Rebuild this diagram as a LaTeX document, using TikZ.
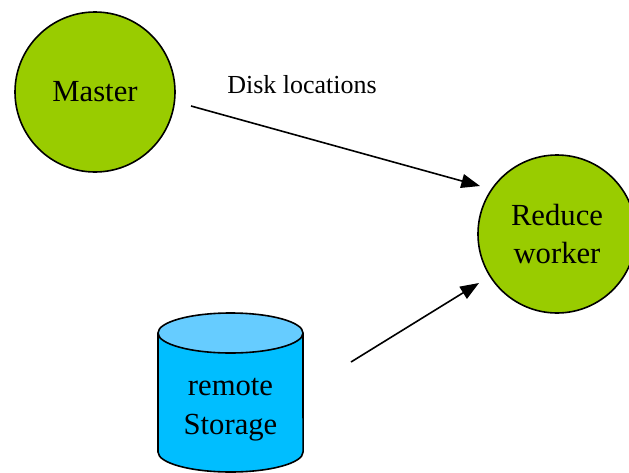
\documentclass[tikz,border=0pt]{standalone}
\usepackage{fontspec}
\setmainfont{Liberation Serif}
\usetikzlibrary{arrows.meta}
\definecolor{workergreen}{RGB}{153,204,0}
\definecolor{storeblue}{RGB}{0,190,255}
\definecolor{storetop}{RGB}{102,204,255}
\tikzset{
	worker/.style={circle,draw=black,line width=1.2pt,fill=workergreen,align=center,inner sep=0pt,font=\fontsize{23}{29}\selectfont},
	link/.style={-{Triangle[length=14pt,width=10.5pt]},line width=1.2pt},
}
\begin{document}
\begin{tikzpicture}[x=0.75pt,y=-0.75pt]
			\useasboundingbox (0,0) rectangle (629,472);
			\node[worker,minimum size=120pt] (master) at (95,92) {Master};
			\node[worker,minimum size=118.5pt] (reduce) at (557,234) {Reduce\\worker};
			% remote storage
			\fill[storeblue] (158,333) -- (158,452) arc[start angle=180,end angle=360,x radius=54.4pt,y radius=15pt] -- (303,333) -- cycle;
			\draw[line width=1.2pt] (158,333) -- (158,452) arc[start angle=180,end angle=360,x radius=54.4pt,y radius=15pt] -- (303,333);
			\draw[line width=1.2pt,fill=storetop] (230.5,333) ellipse[x radius=54.4pt,y radius=15pt];
			\node[align=center,font=\fontsize{23}{29}\selectfont] (storage) at (230.5,410) {remote\\Storage};
			\node[anchor=base,font=\fontsize{19.5}{23}\selectfont] (disk) at (302,93) {Disk locations};
			\coordinate (masterout) at (191,106);
			\coordinate (reducein1) at (480,186);
			\coordinate (storageout) at (351,362);
			\coordinate (reducein2) at (479,283);
			\draw[link] (masterout) -- (reducein1);
			\draw[link] (storageout) -- (reducein2);
		\end{tikzpicture}
\end{document}
